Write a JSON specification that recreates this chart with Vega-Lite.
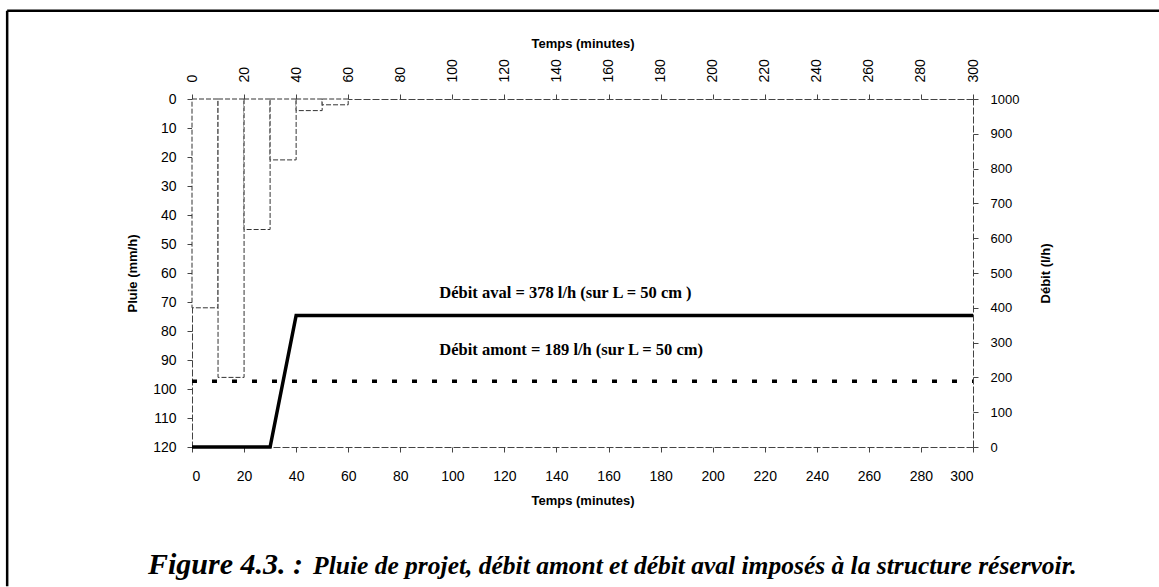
{
  "$schema": "https://vega.github.io/schema/vega-lite/v6.json",
  "width": 781,
  "height": 348,
  "autosize": {"type": "none"},
  "padding": {"left": 192, "top": 99, "right": 186, "bottom": 140},
  "background": "white",
  "config": {
    "view": {"stroke": null},
    "font": "Liberation Sans",
    "axis": {
      "grid": false,
      "domainColor": "#444",
      "domainDash": [7, 2],
      "domainWidth": 1,
      "tickColor": "#444",
      "tickSize": 5,
      "labelColor": "#000",
      "titleColor": "#000",
      "labelFontSize": 14,
      "titleFontSize": 13,
      "titleFontWeight": "bold"
    }
  },
  "datasets": {
    "pluie": [
      {"t0": 0, "t1": 10, "pluie": 72},
      {"t0": 10, "t1": 20, "pluie": 96},
      {"t0": 20, "t1": 30, "pluie": 45},
      {"t0": 30, "t1": 40, "pluie": 21},
      {"t0": 40, "t1": 50, "pluie": 4},
      {"t0": 50, "t1": 60, "pluie": 2}
    ],
    "aval": [
      {"t": 0, "debit": 0},
      {"t": 30, "debit": 0},
      {"t": 40, "debit": 378},
      {"t": 300, "debit": 378}
    ],
    "amont": [
      {"t": 0, "debit": 189},
      {"t": 300, "debit": 189}
    ],
    "notes": [
      {"t": 95, "debit": 442, "label": "Débit aval = 378 l/h (sur L = 50 cm )"},
      {"t": 95, "debit": 278, "label": "Débit amont = 189 l/h (sur L = 50 cm)"}
    ],
    "figure": [{"caption": "Figure 4.3. :"}],
    "legende": [{"caption": "Pluie de projet, débit amont et débit aval imposés à la structure réservoir."}]
  },
  "layer": [
    {
      "data": {"name": "pluie"},
      "mark": {"type": "rect", "fill": "white", "stroke": "#333", "strokeWidth": 1, "strokeDash": [5, 2]},
      "encoding": {
        "x": {
          "field": "t0", "type": "quantitative",
          "scale": {"domain": [0, 300], "nice": false},
          "axis": {
            "orient": "top",
            "title": "Temps (minutes)",
            "values": [0, 20, 40, 60, 80, 100, 120, 140, 160, 180, 200, 220, 240, 260, 280, 300],
            "labelAngle": 270,
            "labelFontSize": 14,
            "labelPadding": 12,
            "titlePadding": 8
          }
        },
        "x2": {"field": "t1"},
        "y": {
          "field": "pluie", "type": "quantitative",
          "scale": {"domain": [0, 120], "reverse": true, "nice": false},
          "axis": {
            "orient": "left",
            "title": "Pluie (mm/h)",
            "values": [0, 10, 20, 30, 40, 50, 60, 70, 80, 90, 100, 110, 120],
            "labelPadding": 11,
            "titlePadding": 13
          }
        },
        "y2": {"datum": 0}
      }
    },
    {
      "data": {"name": "aval"},
      "mark": {"type": "line", "color": "#000", "strokeWidth": 3.5},
      "encoding": {
        "x": {
          "field": "t", "type": "quantitative",
          "scale": {"domain": [0, 300], "nice": false},
          "axis": {
            "orient": "bottom",
            "title": "Temps (minutes)",
            "values": [0, 20, 40, 60, 80, 100, 120, 140, 160, 180, 200, 220, 240, 260, 280, 300],
            "labelAngle": 0,
            "labelPadding": 17,
            "titlePadding": 11
          }
        },
        "y": {
          "field": "debit", "type": "quantitative",
          "scale": {"domain": [0, 1000], "nice": false},
          "axis": {
            "orient": "right",
            "title": "Débit (l/h)",
            "titleAngle": 270,
            "format": "d",
            "values": [0, 100, 200, 300, 400, 500, 600, 700, 800, 900, 1000],
            "labelFontSize": 13,
            "labelPadding": 12,
            "titlePadding": 34
          }
        }
      }
    },
    {
      "data": {"name": "amont"},
      "mark": {"type": "line", "color": "#000", "strokeWidth": 3.5, "strokeDash": [5, 15], "strokeCap": "butt"},
      "encoding": {
        "x": {"field": "t", "type": "quantitative", "axis": null},
        "y": {"field": "debit", "type": "quantitative", "scale": {"domain": [0, 1000], "nice": false}, "axis": null}
      }
    },
    {
      "data": {"name": "notes"},
      "mark": {"type": "text", "align": "left", "baseline": "middle", "font": "Liberation Serif", "fontWeight": "bold", "fontSize": 16.5, "color": "#000"},
      "encoding": {
        "x": {"field": "t", "type": "quantitative", "axis": null},
        "y": {"field": "debit", "type": "quantitative", "scale": {"domain": [0, 1000], "nice": false}, "axis": null},
        "text": {"field": "label"}
      }
    },
    {
      "data": {"name": "figure"},
      "mark": {"type": "text", "align": "left", "baseline": "alphabetic", "font": "Liberation Serif", "fontStyle": "italic", "fontWeight": "bold", "fontSize": 30, "color": "#000"},
      "encoding": {
        "x": {"datum": -16.9, "type": "quantitative", "axis": null},
        "y": {"datum": 163.8, "type": "quantitative", "scale": {"domain": [0, 120], "reverse": true, "nice": false}, "axis": null},
        "text": {"field": "caption"}
      }
    },
    {
      "data": {"name": "legende"},
      "mark": {"type": "text", "align": "left", "baseline": "alphabetic", "font": "Liberation Serif", "fontStyle": "italic", "fontWeight": "bold", "fontSize": 25.5, "color": "#000"},
      "encoding": {
        "x": {"datum": 46.5, "type": "quantitative", "axis": null},
        "y": {"datum": 163.8, "type": "quantitative", "scale": {"domain": [0, 120], "reverse": true, "nice": false}, "axis": null},
        "text": {"field": "caption"}
      }
    },
    {
      "data": {"values": [{}]},
      "mark": {"type": "rule", "color": "#000", "strokeWidth": 2.5},
      "encoding": {
        "x": {"datum": -71, "type": "quantitative", "axis": null},
        "y": {"datum": -30.4, "type": "quantitative", "scale": {"domain": [0, 120], "reverse": true, "nice": false}, "axis": null},
        "y2": {"datum": 168}
      }
    },
    {
      "data": {"values": [{}]},
      "mark": {"type": "rule", "color": "#000", "strokeWidth": 2.5},
      "encoding": {
        "x": {"datum": -71, "type": "quantitative", "axis": null},
        "x2": {"datum": 380},
        "y": {"datum": -30.4, "type": "quantitative", "scale": {"domain": [0, 120], "reverse": true, "nice": false}, "axis": null}
      }
    }
  ],
  "resolve": {
    "scale": {"y": "independent"},
    "axis": {"x": "independent", "y": "independent"}
  }
}
